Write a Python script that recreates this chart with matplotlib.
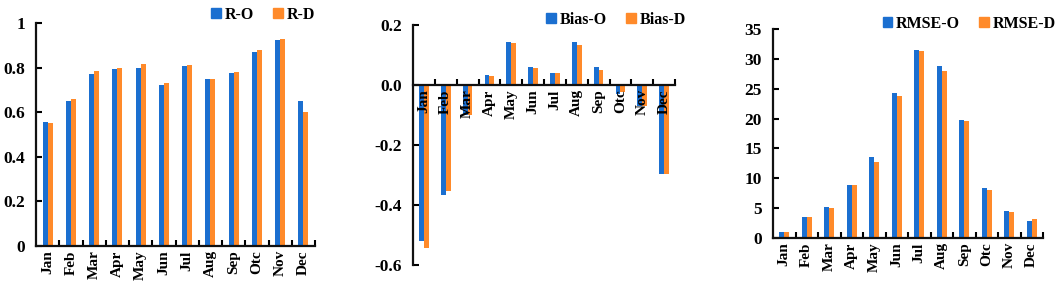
import matplotlib
matplotlib.use("Agg")
import matplotlib.pyplot as plt
from matplotlib.patches import Patch
import numpy as np

months = ["Jan", "Feb", "Mar", "Apr", "May", "Jun", "Jul", "Aug", "Sep", "Otc", "Nov", "Dec"]

r_o = [0.555, 0.65, 0.77, 0.795, 0.80, 0.72, 0.808, 0.75, 0.775, 0.872, 0.925, 0.65]
r_d = [0.55, 0.658, 0.785, 0.80, 0.815, 0.732, 0.81, 0.75, 0.78, 0.878, 0.93, 0.60]

bias_o = [-0.52, -0.365, -0.10, 0.035, 0.143, 0.061, 0.039, 0.145, 0.059, -0.03, -0.07, -0.295]
bias_d = [-0.542, -0.354, -0.10, 0.029, 0.14, 0.058, 0.039, 0.134, 0.05, -0.023, -0.07, -0.295]

rmse_o = [0.95, 3.6, 5.2, 8.9, 13.5, 24.3, 31.5, 28.8, 19.8, 8.3, 4.5, 2.8]
rmse_d = [0.95, 3.5, 5.0, 8.9, 12.8, 23.7, 31.3, 28.0, 19.65, 8.1, 4.35, 3.2]

BLUE = "#1b6fd0"
ORANGE = "#ff8a2a"
FONT = "Liberation Serif"

plt.rcParams["font.family"] = FONT
plt.rcParams["font.weight"] = "bold"

W, H = 1059, 289
fig = plt.figure(figsize=(W / 100, H / 100), dpi=100)


def make_ax(left, right, top, bottom):
    return fig.add_axes([left / W, 1 - bottom / H, (right - left) / W, (bottom - top) / H])


def style(ax, a, b, labels, ylim, yticks, yfmt, leg_xy, zero_spine=False):
    x = np.arange(len(months))
    w = 0.22
    ax.bar(x - w / 2, a, w, color=BLUE, zorder=1)
    ax.bar(x + w / 2, b, w, color=ORANGE, zorder=1)
    ax.set_xlim(-0.5, len(months) - 0.5)
    ax.set_ylim(*ylim)
    for s in ["top", "right"]:
        ax.spines[s].set_visible(False)
    for s in ["left", "bottom"]:
        ax.spines[s].set_linewidth(1.6)
        ax.spines[s].set_color("#111111")
    if zero_spine:
        ax.spines["bottom"].set_position(("data", 0))
    ax.set_yticks(yticks)
    ax.set_yticklabels([yfmt(v) for v in yticks], fontsize=12.5, fontweight="bold")
    ax.tick_params(axis="y", direction="in", length=4, width=1.5, pad=8)
    # boundary ticks on x axis
    ax.set_xticks(np.arange(len(months)) + 0.5)
    ax.tick_params(axis="x", which="major", direction="in", length=4, width=1.5, labelbottom=False)
    ax.set_xticks(x, minor=True)
    ax.set_xticklabels(months, minor=True, rotation=90, fontsize=11, fontweight="bold")
    ax.tick_params(axis="x", which="minor", length=0, pad=3)
    handles = [Patch(color=BLUE, label=labels[0]), Patch(color=ORANGE, label=labels[1])]
    ax.legend(handles=handles, ncol=2, frameon=False, loc="center right",
              bbox_to_anchor=(leg_xy[0] / W, 1 - leg_xy[1] / H), bbox_transform=fig.transFigure,
              prop={"family": FONT, "weight": "bold", "size": 11.5},
              handlelength=0.6, handleheight=0.6, handletextpad=0.25, columnspacing=1.2,
              borderpad=0, borderaxespad=0)


ax1 = make_ax(36, 315, 23, 246)
style(ax1, r_o, r_d, ["R-O", "R-D"], (0, 1), [0, 0.2, 0.4, 0.6, 0.8, 1.0],
      lambda v: "0" if v == 0 else ("1" if v == 1 else f"{v:.1f}"), (315, 15))

ax2 = make_ax(413, 675, 25, 265)
style(ax2, bias_o, bias_d, ["Bias-O", "Bias-D"], (-0.6, 0.2), [-0.6, -0.4, -0.2, 0.0, 0.2],
      lambda v: f"{v:.1f}".replace("\u2212", "-") if abs(v) > 1e-9 else "0.0", (686, 20), zero_spine=True)

ax3 = make_ax(773, 1043, 29, 238)
style(ax3, rmse_o, rmse_d, ["RMSE-O", "RMSE-D"], (0, 35), [0, 5, 10, 15, 20, 25, 30, 35],
      lambda v: f"{v:d}", (1056, 24))

fig.savefig("out.png", dpi=100)
